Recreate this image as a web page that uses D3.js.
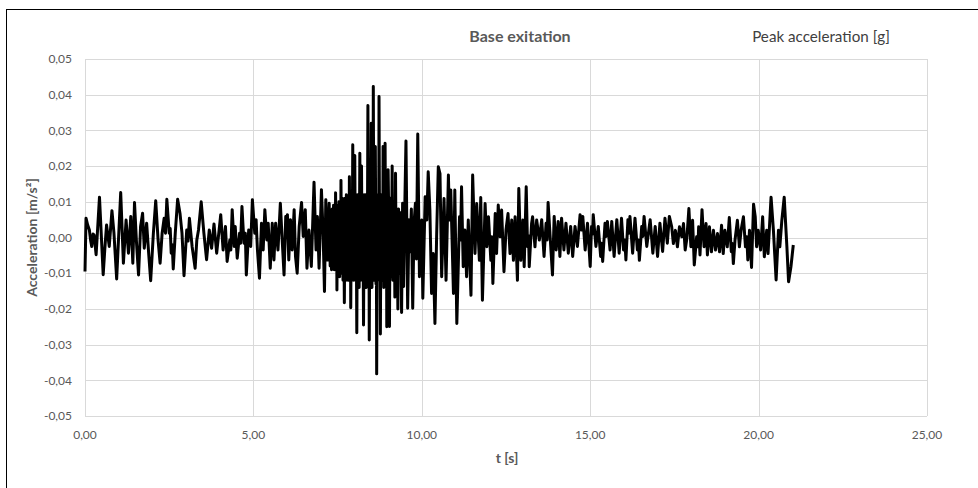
<!DOCTYPE html>
<html>
<head>
<meta charset="utf-8">
<script src="https://cdn.jsdelivr.net/npm/d3@7"></script>
<style>
  html, body { margin: 0; padding: 0; background: #fff; }
  svg { display: block; font-family: Lato, "Open Sans", sans-serif; }
</style>
</head>
<body>
<svg id="chart"></svg>
<script>
// base exitation record, turning points
// each entry: [t in s, acceleration in 1/1000 m/s2]
var seg0to4 = [
    [0.00,-9.5],[0.03,5.4],[0.08,3.5],[0.13,2.1],[0.17,-1.0],[0.20,-2.5],[0.24,1.0],[0.27,0.7],[0.33,-4.8],
    [0.43,11.3],[0.54,-10.4],[0.59,-3.0],[0.64,3.5],[0.72,-2.5],[0.80,7.5],[0.86,1.2],[0.94,-11.6],[1.06,12.6],
    [1.14,-7.2],[1.22,4.9],[1.29,-4.4],[1.36,5.9],[1.42,-7.2],[1.47,9.8],[1.53,-1.6],[1.59,-10.5],[1.65,3.1],
    [1.71,6.8],[1.76,-3.0],[1.83,4.0],[1.89,-4.4],[1.95,-12.1],[2.03,1.2],[2.10,10.3],[2.17,-0.7],[2.23,-7.2],
    [2.29,1.2],[2.35,5.4],[2.39,1.2],[2.43,10.7],[2.50,1.2],[2.53,2.5],[2.56,-4.4],[2.59,-2.0],[2.62,-8.8],
    [2.68,1.2],[2.75,10.7],[2.82,6.8],[2.88,1.2],[2.94,-10.7],[3.02,2.1],[3.06,-1.0],[3.10,5.4],[3.18,-2.5],
    [3.27,-8.6],[3.32,-0.7],[3.37,2.1],[3.45,10.0],[3.53,1.2],[3.61,-6.2],[3.69,2.1],[3.76,-3.0],[3.83,3.8],
    [3.91,-4.4]
];
var seg4to7 = [
    [4.03,6.4],[4.10,-3.5],[4.17,3.1],[4.22,-6.7],[4.30,-0.7],[4.33,-3.5],[4.37,7.8],[4.43,-2.5],[4.46,3.1],
    [4.52,-5.8],[4.59,1.2],[4.62,-1.6],[4.66,8.7],[4.72,-1.6],[4.76,1.2],[4.79,-10.5],[4.86,2.1],[4.92,-2.5],
    [4.97,10.6],[5.04,1.2],[5.08,5.0],[5.12,-3.5],[5.18,-11.4],[5.24,4.0],[5.29,-3.5],[5.34,7.8],[5.40,-0.7],
    [5.44,4.0],[5.50,-8.6],[5.56,4.0],[5.61,-6.3],[5.66,4.0],[5.73,-3.5],[5.80,9.6],[5.86,-1.6],[5.91,-10.5],
    [5.96,5.9],[5.99,1.2],[6.01,6.4],[6.05,-6.3],[6.10,5.0],[6.15,-3.5],[6.21,7.8],[6.25,-5.3],[6.30,-10.0],
    [6.36,3.1],[6.43,9.8],[6.48,0.3],[6.54,7.8],[6.59,-8.6],[6.65,2.1],[6.72,-8.1],[6.80,15.5],[6.86,-3.5],
    [6.90,5.9],[6.95,-8.6],[7.02,13.4],[7.07,1.2],[7.11,-15.1],[7.15,10.6],[7.20,-6.3],[7.25,9.6]
];
var seg7to10 = [
    [7.28,-8],[7.30,6],[7.32,-9],[7.34,8],[7.36,-7],[7.38,9],[7.40,-9],[7.42,7],[7.43,-6],[7.44,12.5],
    [7.46,-8],[7.47,6],[7.48,-14.7],[7.50,9],[7.52,-10],[7.54,10],[7.56,-11],[7.58,9],[7.59,-6],[7.60,16],
    [7.62,-10],[7.64,11],[7.66,-12],[7.68,10],[7.70,-18.3],[7.72,11],[7.74,-11],[7.76,12],[7.78,-12],
    [7.80,11],[7.82,-12],[7.84,-8],[7.85,17],[7.87,-12],[7.88,8],[7.89,-19.7],[7.91,11],[7.93,-12],
    [7.95,26],[7.97,-12],[7.99,10],[8.01,23],[8.03,-12],[8.05,11],[8.07,-26.7],[8.09,12],[8.11,-12],
    [8.13,11],[8.14,-14],[8.16,23.6],[8.18,-12],[8.20,-10],[8.21,20],[8.23,-12],[8.25,9],[8.27,-24.5],
    [8.29,12],[8.31,-13],[8.33,12],[8.35,-14],[8.37,11],[8.38,-10],[8.40,37],[8.42,-12],[8.43,10],
    [8.44,-28.7],[8.46,13],[8.48,-13],[8.50,32],[8.52,-14],[8.54,12],[8.55,-10],[8.56,42.3],[8.58,-12],
    [8.60,13],[8.61,-10],[8.62,25.5],[8.64,-13],[8.65,10],[8.66,-38.2],[8.68,12],[8.70,-12],[8.71,12],
    [8.72,-8],[8.73,39.5],[8.75,-12],[8.76,10],[8.77,-27],[8.79,12],[8.81,-12],[8.83,12],[8.84,-10],
    [8.85,25.5],[8.87,-14],[8.89,12],[8.90,-10],[8.91,26.4],[8.93,-12],[8.95,11],[8.96,-25],[8.98,11],
    [9.00,19],[9.02,5],[9.04,-24.9],[9.06,11],[9.08,-11],[9.10,-10],[9.12,20],[9.14,-12],[9.16,10],
    [9.18,9],[9.20,-16.7],[9.22,18],[9.24,-10],[9.26,8],[9.29,-20],[9.31,8],[9.33,-10],[9.35,7],
    [9.37,6],[9.40,-21],[9.43,9.6],[9.46,-13.7],[9.49,6],[9.53,27],[9.58,-19.8],[9.62,5],[9.65,-4],
    [9.69,8],[9.73,-19.8],[9.77,4],[9.81,9.6],[9.84,-6],[9.88,29],[9.93,-11],[9.96,1]
];
var seg10to13 = [
    [10.00,4.9],[10.03,-17.0],[10.10,11.4],[10.15,4.9],[10.19,18.4],[10.24,7.7],[10.29,-15.7],[10.34,-4.5],
    [10.39,-24.1],[10.44,0.2],[10.49,19.8],[10.54,17.9],[10.59,-11.0],[10.66,10.9],[10.72,-12.0],[10.79,17.5],
    [10.82,4.9],[10.86,13.3],[10.94,-15.7],[10.98,13.3],[11.04,-24.1],[11.12,5.8],[11.15,-0.7],[11.18,14.2],
    [11.23,-8.2],[11.28,2.1],[11.33,-11.0],[11.38,4.9],[11.46,-16.2],[11.51,17.5],[11.58,-4.5],[11.63,9.5],
    [11.71,-6.4],[11.75,11.2],[11.80,-17.6],[11.88,9.5],[11.93,-2.6],[11.98,5.8],[12.05,-6.4],[12.08,0.2],
    [12.11,-12.9],[12.18,6.7],[12.22,-4.5],[12.27,9.1],[12.32,0.2],[12.37,7.7],[12.44,-9.6],[12.50,2.1],
    [12.56,6.7],[12.62,-4.5],[12.67,4.9],[12.72,-6.4],[12.77,5.8],[12.84,-12.0],[12.88,13.7],[12.94,-6.4],
    [13.00,4.9],[13.04,-8.2],[13.10,14.2],[13.14,-2.6],[13.17,0.5],[13.19,-8.2],[13.26,3.9],[13.29,5.8],
    [13.36,-2.6],[13.41,4.9],[13.49,-0.7]
];
var seg13to17 = [
    [13.56,5.0],[13.63,-5.3],[13.69,4.0],[13.72,-0.7],[13.75,9.8],[13.81,0.3],[13.88,-10.5],[13.93,5.9],
    [13.99,-3.5],[14.05,4.5],[14.10,-5.3],[14.15,5.4],[14.22,-3.5],[14.28,4.0],[14.35,-4.4],[14.42,3.1],
    [14.48,-5.3],[14.55,3.1],[14.62,-2.5],[14.70,6.4],[14.74,2.1],[14.78,5.9],[14.85,-3.5],[14.92,4.0],
    [15.00,-8.1],[15.04,3.1],[15.07,1.0],[15.09,6.4],[15.17,-2.5],[15.24,3.1],[15.31,-5.3],[15.34,-1.6],
    [15.37,-6.7],[15.44,4.0],[15.47,0.3],[15.51,4.5],[15.59,-3.5],[15.64,4.5],[15.71,-5.3],[15.79,5.0],
    [15.86,-4.4],[15.93,5.4],[15.99,-3.5],[16.03,-0.7],[16.06,-6.3],[16.12,5.0],[16.15,1.2],[16.18,5.9],
    [16.26,-4.4],[16.33,5.4],[16.40,-3.5],[16.43,-0.7],[16.46,-6.4],[16.53,3.1],[16.56,0.3],[16.60,5.9],
    [16.68,-2.5],[16.78,5.0],[16.86,-4.4],[16.93,3.1],[17.00,-5.3],[17.07,4.0],[17.15,-3.9],[17.22,5.4],
    [17.29,-1.6],[17.35,5.9]
];
var seg17to21 = [
    [17.42,3.0],[17.47,-1.7],[17.53,2.0],[17.59,-2.6],[17.65,3.0],[17.72,0.2],[17.77,3.9],[17.82,-3.5],
    [17.87,-0.3],[17.93,8.1],[17.99,-2.6],[18.04,4.8],[18.09,-7.7],[18.16,0.2],[18.20,-2.6],[18.22,3.0],
    [18.26,-4.9],[18.32,7.8],[18.38,-2.6],[18.44,3.9],[18.48,-4.9],[18.54,3.0],[18.60,-4.0],[18.66,2.0],
    [18.72,-3.5],[18.78,1.1],[18.84,-4.0],[18.90,3.4],[18.95,-4.5],[19.00,2.0],[19.07,-2.6],[19.13,5.6],
    [19.19,-4.0],[19.22,-1.7],[19.25,-7.3],[19.30,-0.7],[19.37,4.8],[19.43,-2.6],[19.48,2.0],[19.55,5.8],
    [19.61,-2.6],[19.65,0.2],[19.68,-6.3],[19.73,2.0],[19.79,-8.4],[19.85,9.3],[19.90,5.8],[19.94,-2.6],
    [19.99,2.0],[20.06,-3.5],[20.12,5.8],[20.17,-5.4],[20.24,2.0],[20.28,-4.5],[20.37,11.3],[20.44,2.0],
    [20.52,-11.9],[20.59,2.0],[20.63,-2.6],[20.69,4.8],[20.76,11.3],[20.84,-2.6],[20.89,-12.4],
    [20.96,-8.2],[21.03,-2.1]
];

var xTicks = [0, 5, 10, 15, 20, 25];
var yTicks = [0.05, 0.04, 0.03, 0.02, 0.01, 0, -0.01, -0.02, -0.03, -0.04, -0.05];

var chartTitle = "Base exitation",
    seriesName = "Peak acceleration [g]",
    xTitle = "t [s]",
    yTitle = "Acceleration [m/s²]";

var width = 978,
    height = 488,
    margin = {left: 85, right: 51, top: 59, bottom: 72},
    gridColor = "#d9d9d9",
    textColor = "#595959";

var comma = d3.formatLocale({decimal: ",", thousands: ".", grouping: [3], currency: ["", ""], minus: "-"}),
    fmt = comma.format(".2f");

var svg = d3.select("#chart").attr("width", width).attr("height", height);

// chart frame, right and bottom edges fall outside the window
svg.append("rect")
    .attr("x", 6.5).attr("y", 9.5)
    .attr("width", 1000).attr("height", 600)
    .attr("fill", "#fff").attr("stroke", "#000").attr("stroke-width", 1);

var x = d3.scaleLinear().domain([0, 25]).range([margin.left, width - margin.right]),
    y = d3.scaleLinear().domain([-0.05, 0.05]).range([height - margin.bottom, margin.top]);

var g = svg.append("g");

// grid
g.selectAll(".hgrid").data(yTicks).enter().append("line")
    .attr("class", "hgrid")
    .attr("x1", x(0)).attr("x2", x(25))
    .attr("y1", function(d){return Math.round(y(d)) + 0.5;})
    .attr("y2", function(d){return Math.round(y(d)) + 0.5;})
    .attr("stroke", gridColor).attr("stroke-width", 1);

g.selectAll(".vgrid").data(xTicks).enter().append("line")
    .attr("class", "vgrid")
    .attr("y1", y(0.05)).attr("y2", y(-0.05))
    .attr("x1", function(d){return Math.round(x(d)) + 0.5;})
    .attr("x2", function(d){return Math.round(x(d)) + 0.5;})
    .attr("stroke", gridColor).attr("stroke-width", 1);

// tick labels
g.selectAll(".ylab").data(yTicks).enter().append("text")
    .attr("class", "ylab")
    .attr("x", x(0) - 13).attr("y", function(d){return y(d);})
    .attr("dy", "0.35em").attr("text-anchor", "end")
    .attr("font-size", 12).attr("fill", textColor)
    .text(function(d){return fmt(d);});

g.selectAll(".xlab").data(xTicks).enter().append("text")
    .attr("class", "xlab")
    .attr("x", function(d){return x(d);}).attr("y", y(-0.05) + 19)
    .attr("dy", "0.35em").attr("text-anchor", "middle")
    .attr("font-size", 12).attr("fill", textColor)
    .text(function(d){return fmt(d);});

// series
var data = [].concat(seg0to4, seg4to7, seg7to10, seg10to13, seg13to17, seg17to21);
var line = d3.line()
    .x(function(d){return x(d[0]);})
    .y(function(d){return y(d[1] / 1000);});

g.append("path")
    .datum(data)
    .attr("d", line)
    .attr("fill", "none")
    .attr("stroke", "#000")
    .attr("stroke-width", 3)
    .attr("stroke-linejoin", "round");

// titles
svg.append("text")
    .attr("x", 520).attr("y", 42)
    .attr("text-anchor", "middle").attr("font-size", 16).attr("font-weight", "bold")
    .attr("fill", textColor).text(chartTitle);

svg.append("text")
    .attr("x", 821).attr("y", 42)
    .attr("text-anchor", "middle").attr("font-size", 15.2)
    .attr("fill", "#404040").text(seriesName);

svg.append("text")
    .attr("x", 507).attr("y", 463)
    .attr("text-anchor", "middle").attr("font-size", 14).attr("font-weight", "bold")
    .attr("fill", textColor).text(xTitle);

svg.append("text")
    .attr("transform", "translate(37," + y(0) + ") rotate(-90)")
    .attr("text-anchor", "middle").attr("font-size", 14).attr("font-weight", "bold")
    .attr("fill", textColor).text(yTitle);
</script>
</body>
</html>
